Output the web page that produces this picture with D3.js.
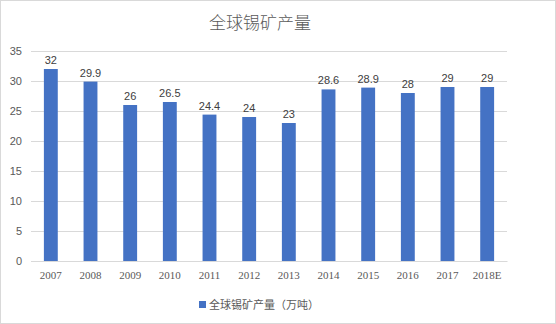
<!DOCTYPE html>
<html><head><meta charset="utf-8">
<script src="https://cdn.jsdelivr.net/npm/d3@7"></script>
<style>body{margin:0;background:#fff}svg{display:block}</style>
</head><body>
<script>
const categories = ["2007","2008","2009","2010","2011","2012","2013","2014","2015","2016","2017","2018E"];
const values = [32, 29.9, 26, 26.5, 24.4, 24, 23, 28.6, 28.9, 28, 29, 29];
const labels = ["32","29.9","26","26.5","24.4","24","23","28.6","28.9","28","29","29"];
const yTicks = [0,5,10,15,20,25,30,35];
const title = "全球锡矿产量";
const seriesName = "全球锡矿产量（万吨）";

const W = 556, H = 324;
const svg = d3.select("body").append("svg").attr("width", W).attr("height", H);
svg.append("rect").attr("x",0.5).attr("y",0.5).attr("width",W-1).attr("height",H-1)
  .attr("fill","#fff").attr("stroke","#d9d9d9");

const x = d3.scaleBand().domain(categories).range([31, 507]).paddingInner(0.65).paddingOuter(0.325);
const y = d3.scaleLinear().domain([0,35]).range([261, 51]);

const grid = svg.append("g");
grid.selectAll("line").data(yTicks).join("line")
  .attr("x1",31).attr("x2",507).attr("y1",d=>y(d)+0.5).attr("y2",d=>y(d)+0.5)
  .attr("stroke","#d9d9d9").attr("stroke-width",1);

const yAxis = svg.append("g").attr("transform","translate(31,0)")
  .call(d3.axisLeft(y).tickValues(yTicks).tickSize(0).tickPadding(9));
yAxis.select(".domain").remove();
yAxis.selectAll("text").attr("font-family","Liberation Sans, Arial, sans-serif").attr("font-size",11).attr("fill","#595959");

svg.append("g").selectAll("rect").data(values).join("rect")
  .attr("x",(d,i)=>x(categories[i])).attr("width",x.bandwidth())
  .attr("y",d=>y(d)).attr("height",d=>y(0)-y(d)).attr("fill","#4472c4");

svg.append("g").selectAll("text").data(values).join("text")
  .attr("x",(d,i)=>x(categories[i])+x.bandwidth()/2).attr("y",d=>y(d)-5)
  .attr("text-anchor","middle").attr("font-family","Liberation Sans, Arial, sans-serif")
  .attr("font-size",11).attr("fill","#404040").text((d,i)=>labels[i]);

const xAxis = svg.append("g").attr("transform","translate(0,261)")
  .call(d3.axisBottom(x).tickSize(0).tickPadding(10));
xAxis.select(".domain").attr("stroke","#d9d9d9");
xAxis.selectAll("text").attr("font-family","Liberation Serif, 'DejaVu Serif', serif").attr("font-size",11).attr("fill","#595959");

svg.append("text").attr("x",260).attr("y",29).attr("text-anchor","middle")
  .attr("font-family","'Noto Sans CJK SC', sans-serif").attr("font-weight",300).attr("font-size",17).attr("fill","#595959").text(title);

const lg = svg.append("g");
lg.append("rect").attr("x",199).attr("y",301).attr("width",7).attr("height",7).attr("fill","#4472c4");
lg.append("text").attr("x",209).attr("y",309).attr("font-family","'Noto Sans CJK SC', sans-serif")
  .attr("font-size",11).attr("fill","#595959").text(seriesName);
</script>
</body></html>
